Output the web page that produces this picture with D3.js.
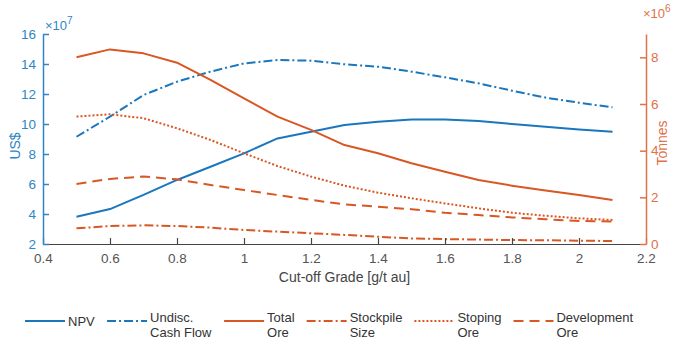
<!DOCTYPE html>
<html><head><meta charset="utf-8">
<script src="https://cdn.jsdelivr.net/npm/d3@7"></script>
<style>
body{margin:0;background:#fff;}
text{font-family:"Liberation Sans",Arial,sans-serif;}
</style></head>
<body><svg id="c" width="676" height="342"></svg>
<script>
const grade = [0.5,0.6,0.7,0.8,0.9,1.0,1.1,1.2,1.3,1.4,1.5,1.6,1.7,1.8,1.9,2.0,2.1];
const npv = [3.82,4.33,5.27,6.27,7.15,8.04,9.04,9.49,9.93,10.15,10.3,10.3,10.2,10.0,9.82,9.64,9.49];
const cashFlow = [9.15,10.49,11.93,12.82,13.49,14.04,14.27,14.22,13.98,13.82,13.49,13.11,12.71,12.22,11.76,11.42,11.11];
const totalOre = [8.0,8.34,8.17,7.77,7.03,6.24,5.46,4.89,4.24,3.89,3.46,3.10,2.74,2.50,2.29,2.10,1.89];
const stockpile = [0.67,0.77,0.80,0.77,0.70,0.60,0.53,0.46,0.39,0.31,0.24,0.21,0.19,0.17,0.16,0.14,0.13];
const stoping = [5.46,5.56,5.39,4.96,4.46,3.89,3.34,2.89,2.5,2.2,1.96,1.74,1.53,1.34,1.21,1.10,1.03];
const development = [2.57,2.79,2.89,2.77,2.53,2.31,2.10,1.89,1.70,1.60,1.49,1.34,1.24,1.14,1.06,0.99,0.96];
const xTicks = [0.4,0.6,0.8,1,1.2,1.4,1.6,1.8,2,2.2];
const xTickLabels = ["0.4","0.6","0.8","1","1.2","1.4","1.6","1.8","2","2.2"];
const yLeftTicks = [2,4,6,8,10,12,14,16];
const yRightTicks = [0,2,4,6,8];
const seriesNames = ["NPV","Undisc.|Cash Flow","Total|Ore","Stockpile|Size","Stoping|Ore","Development|Ore"];

const BLUE="#1a76bd", ORANGE="#d95723", BLUE_T="#2f86c6", ORANGE_T="#e0714a", GRAY="#454545";
const svg=d3.select("#c");
const L=43,R=646,T=34,B=244;
const x=d3.scaleLinear().domain([0.4,2.2]).range([L,R]);
const yL=d3.scaleLinear().domain([2,16]).range([B,T]);
const yR=d3.scaleLinear().domain([0,9]).range([B,T]);
const FS="13.5px";

const series=[
 {v:npv, s:yL, c:BLUE, dash:null},
 {v:cashFlow, s:yL, c:BLUE, dash:"9,3,2,3"},
 {v:totalOre, s:yR, c:ORANGE, dash:null},
 {v:stockpile, s:yR, c:ORANGE, dash:"9,3,2,3"},
 {v:stoping, s:yR, c:ORANGE, dash:"2,2"},
 {v:development, s:yR, c:ORANGE, dash:"10,6"}
];

series.forEach(sr=>{
  const line=d3.line().x((d,i)=>x(grade[i])).y(d=>sr.s(d));
  svg.append("path").attr("d",line(sr.v)).attr("fill","none")
    .attr("stroke",sr.c).attr("stroke-width",2)
    .attr("stroke-dasharray",sr.dash).attr("stroke-linejoin","round");
});

// bottom axis
const gx=svg.append("g").attr("transform",`translate(0,${B})`)
 .call(d3.axisBottom(x).tickValues(xTicks).tickFormat((d,i)=>xTickLabels[i]).tickSizeInner(-6).tickSizeOuter(0).tickPadding(9));
gx.select(".domain").attr("stroke",GRAY).attr("stroke-width",1.2);
gx.selectAll(".tick line").attr("stroke",GRAY).attr("stroke-width",1.2);
gx.selectAll("text").attr("fill","#555").style("font-size",FS).style("font-family","Liberation Sans,Arial");

// left axis
const gl=svg.append("g").attr("transform",`translate(${L},0)`)
 .call(d3.axisLeft(yL).tickValues(yLeftTicks).tickSizeInner(-6).tickSizeOuter(0).tickPadding(7));
gl.select(".domain").attr("stroke",BLUE_T).attr("stroke-width",1.5);
gl.selectAll(".tick line").attr("stroke",BLUE_T).attr("stroke-width",1.5);
gl.selectAll("text").attr("fill",BLUE_T).style("font-size",FS).style("font-family","Liberation Sans,Arial");

// right axis
const gr=svg.append("g").attr("transform",`translate(${R},0)`)
 .call(d3.axisRight(yR).tickValues(yRightTicks).tickSizeInner(-6).tickSizeOuter(0).tickPadding(5));
gr.select(".domain").attr("stroke",ORANGE_T).attr("stroke-width",1.5);
gr.selectAll(".tick line").attr("stroke",ORANGE_T).attr("stroke-width",1.5);
gr.selectAll("text").attr("fill",ORANGE_T).style("font-size",FS).style("font-family","Liberation Sans,Arial");

// exponent labels
const e7=svg.append("text").attr("x",45).attr("y",30).attr("fill",BLUE_T).style("font-size","13px");
e7.append("tspan").text("×10");
e7.append("tspan").attr("dy",-6).style("font-size","10px").text("7");
const e6=svg.append("text").attr("x",643).attr("y",18).attr("fill",ORANGE_T).style("font-size","13px");
e6.append("tspan").text("×10");
e6.append("tspan").attr("dy",-6).style("font-size","10px").text("6");

// axis titles
svg.append("text").attr("transform","translate(20,146) rotate(-90)").attr("text-anchor","middle")
 .attr("fill",BLUE_T).style("font-size","14px").text("US$");
svg.append("text").attr("transform","translate(667,143) rotate(-90)").attr("text-anchor","middle")
 .attr("fill",ORANGE_T).style("font-size","14px").text("Tonnes");
svg.append("text").attr("x",(L+R)/2).attr("y",282).attr("text-anchor","middle")
 .attr("fill","#444").style("font-size","14px").text("Cut-off Grade [g/t au]");

// legend
let lx=25;
const ly=321;
series.forEach((sr,i)=>{
  svg.append("line").attr("x1",lx).attr("x2",lx+40).attr("y1",ly).attr("y2",ly)
   .attr("stroke",sr.c).attr("stroke-width",2).attr("stroke-dasharray",sr.dash);
  const parts=seriesNames[i].split("|");
  const t=svg.append("text").attr("fill","#333").style("font-size","13px");
  if(parts.length===1){
    t.attr("x",lx+43).attr("y",ly+5).text(parts[0]);
  } else {
    t.append("tspan").attr("x",lx+43).attr("y",ly+1).text(parts[0]);
    t.append("tspan").attr("x",lx+43).attr("y",ly+16).text(parts[1]);
  }
  const w=t.node().getBBox().width;
  lx=lx+43+w+12;
});
</script></body></html>
